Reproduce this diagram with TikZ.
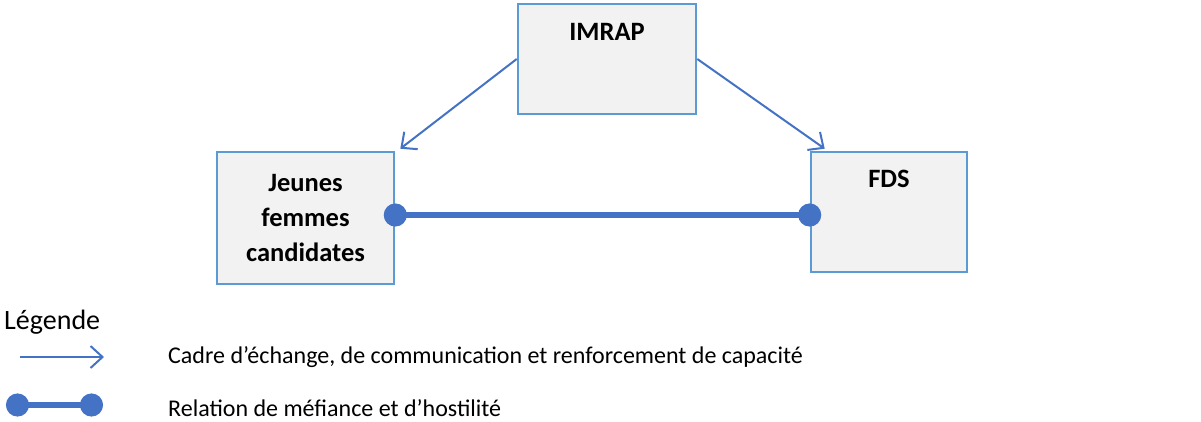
\documentclass[tikz,border=0pt]{standalone}
\usepackage{fontspec}
\setmainfont{Carlito}
\usetikzlibrary{arrows.meta,positioning}
\definecolor{cframe}{RGB}{91,155,213}
\definecolor{cfill}{RGB}{242,242,242}
\definecolor{clink}{RGB}{68,114,196}
\tikzset{
  actor/.style={draw=cframe,fill=cfill,line width=2.6pt,inner sep=0pt},
  actorname/.style={font=\fontsize{26.5}{35}\selectfont\bfseries,align=center},
  echange/.style={clink,line width=2pt,-{Straight Barb[length=12pt,width=22pt,line width=2pt]}},
  hostile/.style={clink,line width=6.5pt,{Circle[length=23pt]}-{Circle[length=23pt]}},
  legtext/.style={font=\fontsize{24}{28}\selectfont,anchor=west}
}

\begin{document}
\begin{tikzpicture}[x=1pt,y=-1pt]
    \useasboundingbox (0,0) rectangle (1201,421);
    % acteurs
    \node[actor,minimum width=178pt,minimum height=110pt] (imrap) at (607,59) {};
    \node[actorname] (imraplbl) at ([yshift=-29pt]imrap.north) {IMRAP};
    \node[actor,actorname,minimum width=177pt,minimum height=132pt] (jeunes) at (305.5,218) {Jeunes\\femmes\\candidates};
    \node[actor,minimum width=156pt,minimum height=120pt] (fds) at (889,212) {};
    \node[actorname] (fdslbl) at ([yshift=-28pt]fds.north) {FDS};
    % relations
    \draw[echange] (imrap.west) -- ([xshift=5pt,yshift=2pt]jeunes.north east);
    \draw[echange] (imrap.east) -- ([xshift=15pt,yshift=2pt]fds.north west);
    \draw[hostile,shorten <=-11.5pt,shorten >=-11.5pt] ([yshift=3pt]jeunes.east) -- ([yshift=-3pt]fds.west);
    % legende
    \node[font=\fontsize{28}{32}\selectfont,anchor=west,inner sep=0pt] (legende) at (4,322) {Légende};
    \coordinate (la1) at (20,357);
    \coordinate (la2) at (104,357);
    \draw[echange] (la1) -- (la2);
    \node[legtext,inner sep=0pt] (lt1) at (168,357) {Cadre d’échange, de communication et renforcement de capacité};
    \coordinate (lh1) at (6,405);
    \coordinate (lh2) at (103,405);
    \draw[hostile] (lh1) -- (lh2);
    \node[legtext,inner sep=0pt] (lt2) at (168,408) {Relation de méfiance et d’hostilité};
\end{tikzpicture}
\end{document}
